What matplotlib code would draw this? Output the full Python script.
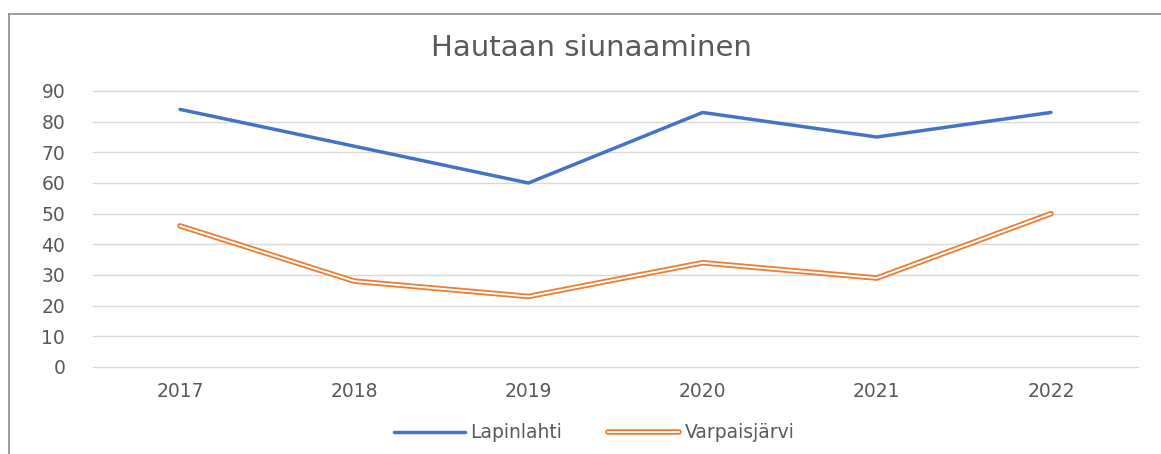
import matplotlib.pyplot as plt
import matplotlib.patheffects as pe
from matplotlib.lines import Line2D

years = ["2017", "2018", "2019", "2020", "2021", "2022"]
lapinlahti = [84, 72, 60, 83, 75, 83]
varpaisjarvi = [46, 28, 23, 34, 29, 50]

BLUE = "#4472C4"
ORANGE = "#ED7D31"
TEXT = "#595959"
GRID = "#D9D9D9"

plt.rcParams["font.family"] = ["DejaVu Sans"]

W, H = 1161, 454
fig = plt.figure(figsize=(W / 100, H / 100), dpi=100)
fig.patch.set_facecolor("white")

# chart frame: only the top and left edges are visible in the crop
fig.add_artist(Line2D([9 / W, 1.0], [1 - 14 / H] * 2, color="#8C8C8C", lw=1.2))
fig.add_artist(Line2D([9 / W] * 2, [0.0, 1 - 14 / H], color="#8C8C8C", lw=1.2))

ax = fig.add_axes([93 / W, 1 - 367 / H, (1138 - 93) / W, (367 - 91) / H])
x = list(range(len(years)))

ax.plot(x, lapinlahti, color=BLUE, lw=2.5, solid_capstyle="round",
        solid_joinstyle="round", label="Lapinlahti", zorder=3)
# double line: white core over a wider orange stroke
ax.plot(x, varpaisjarvi, color="white", lw=1.4, solid_capstyle="round",
        solid_joinstyle="round", label="Varpaisjärvi", zorder=3,
        path_effects=[pe.Stroke(linewidth=4.0, foreground=ORANGE,
                                capstyle="round", joinstyle="round"),
                      pe.Normal()])

ax.set_xlim(-0.5, len(years) - 0.5)
ax.set_ylim(0, 90)
ax.set_yticks(range(0, 91, 10))
ax.set_xticks(x)
ax.set_xticklabels(years)
ax.grid(axis="y", color=GRID, lw=1.0)
for gl in ax.get_ygridlines():
    gl.set_clip_on(False)
ax.set_axisbelow(True)
for s in ax.spines.values():
    s.set_visible(False)
ax.tick_params(axis="both", length=0, colors=TEXT, labelsize=13.5)
ax.tick_params(axis="y", pad=20)
ax.tick_params(axis="x", pad=11)

fig.text(591 / W, 1 - 48 / H, "Hautaan siunaaminen", ha="center", va="center",
         fontsize=21, color=TEXT)

leg = fig.legend(loc="center", bbox_to_anchor=(594 / W, 1 - 433 / H), ncol=2,
                 frameon=False, fontsize=13.5, handlelength=3.8,
                 handletextpad=0.3, columnspacing=2.4)
for t in leg.get_texts():
    t.set_color(TEXT)

fig.savefig("out.png", dpi=100, facecolor="white")
